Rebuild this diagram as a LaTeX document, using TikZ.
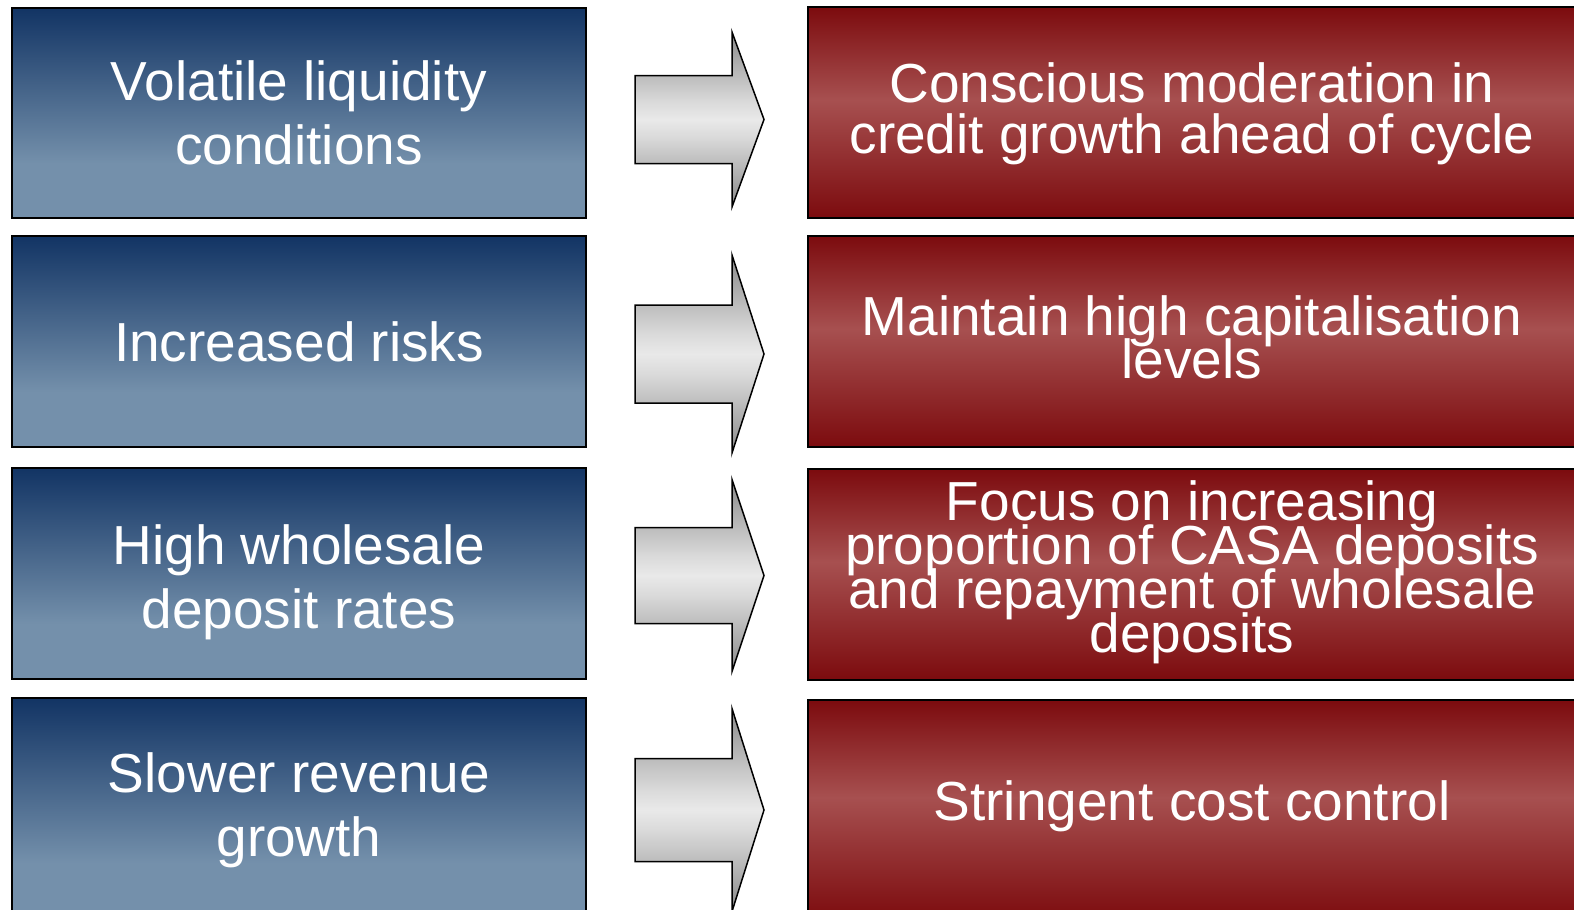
\documentclass[tikz,border=0pt]{standalone}
\usepackage{fontspec}
\setmainfont{Liberation Sans}

% Colours of the cause boxes, action boxes and block arrows
\definecolor{navytop}{RGB}{18,52,100}
\definecolor{navybottom}{RGB}{116,144,171}
\definecolor{wine}{RGB}{124,11,14}
\definecolor{winemid}{RGB}{167,80,80}
\definecolor{arrowedge}{RGB}{138,138,138}
\definecolor{arrowshaft}{RGB}{188,188,188}
\definecolor{arrowsoft}{RGB}{218,218,218}
\definecolor{arrowmid}{RGB}{233,233,233}

% Vertical fades (the middle 50bp of each shading covers the filled shape)
\pgfdeclareverticalshading{navyfade}{100bp}{color(0bp)=(navybottom); color(38bp)=(navybottom); color(75bp)=(navytop); color(100bp)=(navytop)}
\pgfdeclareverticalshading{winefade}{100bp}{color(0bp)=(wine); color(25bp)=(wine); color(53bp)=(winemid); color(75bp)=(wine); color(100bp)=(wine)}
\pgfdeclareverticalshading{arrowfade}{100bp}{color(0bp)=(arrowedge); color(25bp)=(arrowedge); color(37.5bp)=(arrowshaft); color(45bp)=(arrowsoft); color(50bp)=(arrowmid); color(55bp)=(arrowsoft); color(62.5bp)=(arrowshaft); color(75bp)=(arrowedge); color(100bp)=(arrowedge)}

% Lines of a label keep their fixed spacing even when they overlap
\newcommand\tightlines{\lineskiplimit -100pt\relax\lineskip 0pt\relax}

% Block arrow: #1 = centre line y, #2 = half shaft width, #3 = half head width
\newcommand\blockarrowat[3]{%
  \draw[blockarrow] (635,#1-#2) -- (732,#1-#2) -- (732,#1-#3) -- (764,#1)
    -- (732,#1+#3) -- (732,#1+#2) -- (635,#1+#2) -- cycle;}

\begin{document}
\begin{tikzpicture}[x=1pt,y=-1pt,
  causebox/.style={draw=black, line width=2pt, shading=navyfade,
    minimum width=574pt, inner sep=0pt},
  actionbox/.style={draw=black, line width=2pt, shading=winefade,
    minimum width=768pt, inner sep=0pt},
  causetext/.style={text=white, align=center, inner sep=0pt,
    font=\fontsize{55}{64}\selectfont\tightlines},
  actiontext/.style={text=white, align=center, inner sep=0pt,
    font=\fontsize{55}{#1}\selectfont\tightlines},
  actiontext/.default=44,
  blockarrow/.style={draw=black, line width=1.5pt, shading=arrowfade,
    line join=miter}]

\fill[white] (0,0) rectangle (1574,910);
\useasboundingbox (0,0) rectangle (1574,910);
\clip (0,0) rectangle (1574,910);

% Causes (left column)
\node[causebox, minimum height=210pt] (c1) at (299,113) {};
\node[causebox, minimum height=211pt] (c2) at (299,341.5) {};
\node[causebox, minimum height=211pt] (c3) at (299,573.5) {};
\node[causebox, minimum height=223pt] (c4) at (299,809.5) {};

\node[causetext] (c1t) at (299,112.5) {Volatile liquidity\\conditions};
\node[causetext] (c2t) at (299,342) {Increased risks};
\node[causetext] (c3t) at (299,582) {High wholesale\\deposit rates};
\node[causetext] (c4t) at (299,810) {Slower revenue\\growth};

% Responses (right column)
\node[actionbox, minimum height=211pt] (r1) at (1192,112.5) {};
\node[actionbox, minimum height=211pt] (r2) at (1192,341.5) {};
\node[actionbox, minimum height=211pt] (r3) at (1192,574.5) {};
\node[actionbox, minimum height=221pt] (r4) at (1192,810.5) {};

\node[actiontext=51] (r1t) at (1192,113.5) {Conscious moderation in\\credit growth ahead of cycle};
\node[actiontext=43] (r2t) at (1192,337) {Maintain high capitalisation\\levels};
\node[actiontext=44] (r3t) at (1192,572) {Focus on increasing\\proportion of CASA deposits\\and repayment of wholesale\\deposits};
\node[actiontext] (r4t) at (1192,806) {Stringent cost control};

% Block arrows between the columns
\blockarrowat{119.5}{44}{87.5}
\blockarrowat{354}{49}{99}
\blockarrowat{575.5}{48}{96}
\blockarrowat{810}{51.5}{101.5}
\end{tikzpicture}
\end{document}
